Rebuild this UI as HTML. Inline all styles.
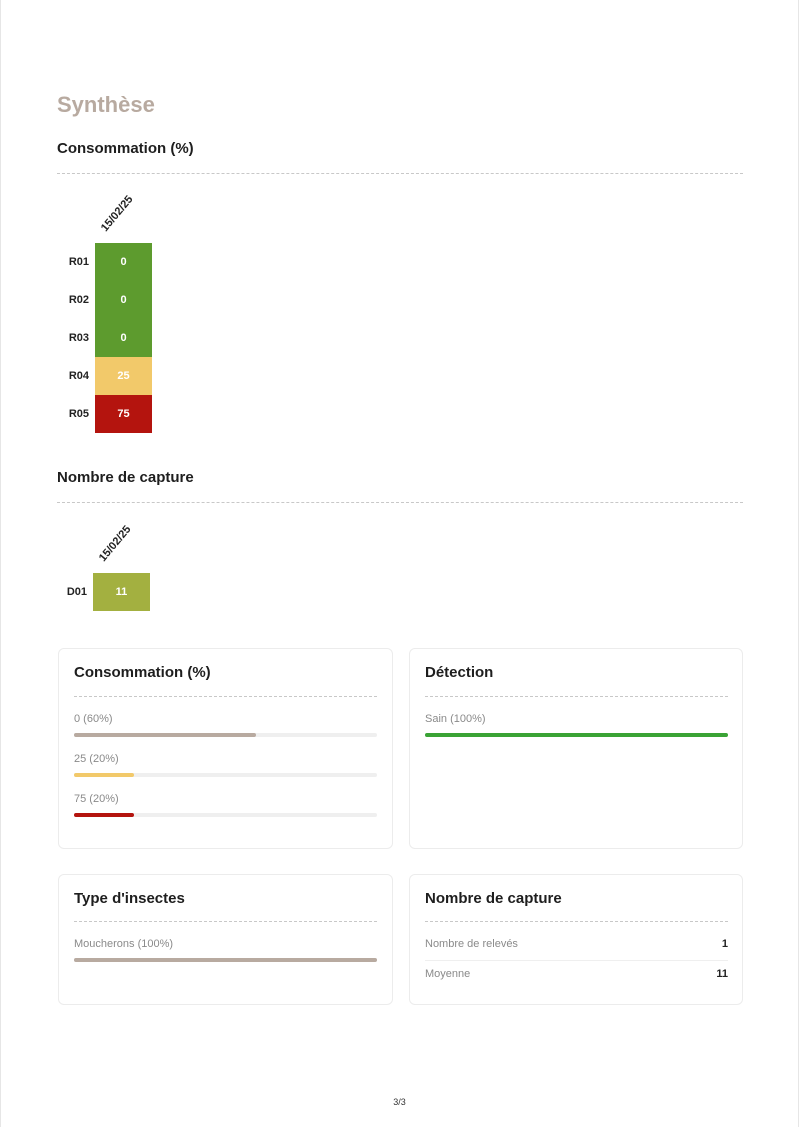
<!DOCTYPE html>
<html><head><meta charset="utf-8"><style>
*{margin:0;padding:0;box-sizing:border-box}
body{width:799px;height:1127px;background:#fff;position:relative;font-family:"Liberation Sans",sans-serif;color:#222;overflow:hidden}
.a{position:absolute}
.h1{left:57px;top:92px;font-size:22px;font-weight:bold;color:#b8aaa0}
.h2{font-size:15px;font-weight:bold;color:#1e1e1e}
.dash{height:0;border-top:1px dashed #c8c8c8}
.cell{left:95px;width:57px;height:38px;color:#fff;font-size:11px;font-weight:bold;text-align:center;line-height:38px}
.rl{width:40px;left:49px;text-align:right;font-size:11px;font-weight:bold;line-height:38px}
.date{font-size:11px;font-weight:bold;transform:rotate(-50deg);transform-origin:left bottom}
.card{border:1px solid #ececec;border-radius:6px;background:#fff}
.lbl{font-size:11px;color:#8a8a8a}
.track{height:4px;background:#efefef;border-radius:2px}
.bar{height:4px;border-radius:2px;position:absolute;left:0;top:0}
</style></head><body>
<div class="a" style="left:0;top:0;width:1px;height:1127px;background:#e6e6e6"></div>
<div class="a" style="left:798px;top:0;width:1px;height:1127px;background:#e6e6e6"></div>
<div class="a h1">Synthèse</div>
<div class="a h2" style="left:57px;top:140px">Consommation (%)</div>
<div class="a dash" style="left:57px;top:173px;width:686px"></div>
<div class="a date" style="left:108px;top:222px">15/02/25</div>
<div class="a rl" style="top:243px">R01</div><div class="a cell" style="top:243px;background:#5d9b2e">0</div>
<div class="a rl" style="top:281px">R02</div><div class="a cell" style="top:281px;background:#5d9b2e">0</div>
<div class="a rl" style="top:319px">R03</div><div class="a cell" style="top:319px;background:#5d9b2e">0</div>
<div class="a rl" style="top:357px">R04</div><div class="a cell" style="top:357px;background:#f2c96a">25</div>
<div class="a rl" style="top:395px">R05</div><div class="a cell" style="top:395px;background:#b4140e">75</div>

<div class="a h2" style="left:57px;top:469px">Nombre de capture</div>
<div class="a dash" style="left:57px;top:502px;width:686px"></div>
<div class="a date" style="left:106px;top:552px">15/02/25</div>
<div class="a rl" style="top:573px;left:47px">D01</div><div class="a cell" style="top:573px;left:93px;background:#a3b040">11</div>

<div class="a card" style="left:58px;top:648px;width:335px;height:201px"></div>
<div class="a h2" style="left:74px;top:664px">Consommation (%)</div>
<div class="a dash" style="left:74px;top:696px;width:303px"></div>
<div class="a lbl" style="left:74px;top:713px">0 (60%)</div>
<div class="a track" style="left:74px;top:733px;width:303px"><div class="bar" style="width:182px;background:#b8aaa0"></div></div>
<div class="a lbl" style="left:74px;top:753px">25 (20%)</div>
<div class="a track" style="left:74px;top:773px;width:303px"><div class="bar" style="width:60px;background:#f2c96a"></div></div>
<div class="a lbl" style="left:74px;top:793px">75 (20%)</div>
<div class="a track" style="left:74px;top:813px;width:303px"><div class="bar" style="width:60px;background:#b4140e"></div></div>

<div class="a card" style="left:409px;top:648px;width:334px;height:201px"></div>
<div class="a h2" style="left:425px;top:664px">Détection</div>
<div class="a dash" style="left:425px;top:696px;width:303px"></div>
<div class="a lbl" style="left:425px;top:713px">Sain (100%)</div>
<div class="a track" style="left:425px;top:733px;width:303px"><div class="bar" style="width:303px;background:#3aa335"></div></div>

<div class="a card" style="left:58px;top:874px;width:335px;height:131px"></div>
<div class="a h2" style="left:74px;top:890px">Type d'insectes</div>
<div class="a dash" style="left:74px;top:921px;width:303px"></div>
<div class="a lbl" style="left:74px;top:938px">Moucherons (100%)</div>
<div class="a track" style="left:74px;top:958px;width:303px"><div class="bar" style="width:303px;background:#b8aaa0"></div></div>

<div class="a card" style="left:409px;top:874px;width:334px;height:131px"></div>
<div class="a h2" style="left:425px;top:890px">Nombre de capture</div>
<div class="a dash" style="left:425px;top:921px;width:303px"></div>
<div class="a lbl" style="left:425px;top:938px">Nombre de relevés</div>
<div class="a" style="left:700px;top:938px;width:28px;text-align:right;font-size:11px;font-weight:bold">1</div>
<div class="a" style="left:425px;top:960px;width:303px;border-top:1px solid #efefef"></div>
<div class="a lbl" style="left:425px;top:968px">Moyenne</div>
<div class="a" style="left:700px;top:968px;width:28px;text-align:right;font-size:11px;font-weight:bold">11</div>

<div class="a" style="left:0;width:799px;top:1097px;text-align:center;font-size:9px;color:#333">3/3</div>
</body></html>
